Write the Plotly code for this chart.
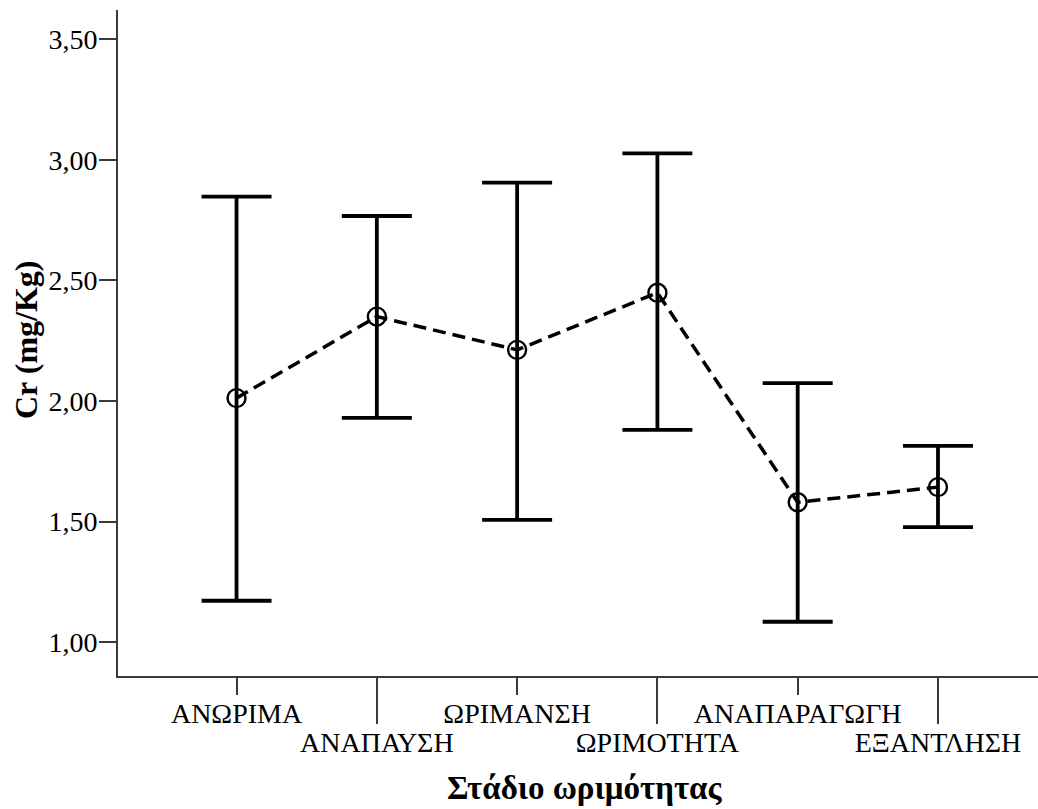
import plotly.graph_objects as go

# Maturity stages and Cr concentration (mean with interval bounds)
stages = ["ΑΝΩΡΙΜΑ", "ΑΝΑΠΑΥΣΗ", "ΩΡΙΜΑΝΣΗ", "ΩΡΙΜΟΤΗΤΑ", "ΑΝΑΠΑΡΑΓΩΓΗ", "ΕΞΑΝΤΛΗΣΗ"]
cr_mean = [2.012, 2.350, 2.212, 2.449, 1.580, 1.643]
cr_upper = [2.847, 2.767, 2.905, 3.027, 2.074, 1.814]
cr_lower = [1.172, 1.930, 1.507, 1.880, 1.085, 1.477]
y_ticks = [1.0, 1.5, 2.0, 2.5, 3.0, 3.5]
y_tick_labels = ["1,00", "1,50", "2,00", "2,50", "3,00", "3,50"]

pos = list(range(len(stages)))
err_plus = [u - m for u, m in zip(cr_upper, cr_mean)]
err_minus = [m - l for m, l in zip(cr_mean, cr_lower)]

FONT = "Liberation Serif, Times New Roman, serif"
AXIS_COLOR = "#3a3a3a"
TICK_SIZE = 28

fig = go.Figure()
fig.add_trace(go.Scatter(
    x=pos, y=cr_mean,
    mode="lines+markers",
    line=dict(color="black", width=3.5, dash="13px,7px"),
    marker=dict(symbol="circle-open", size=18, color="black", line=dict(width=2.4, color="black")),
    error_y=dict(type="data", symmetric=False, array=err_plus, arrayminus=err_minus,
                 color="black", thickness=3.8, width=35),
    showlegend=False,
    cliponaxis=False,
))

x_range = [-0.845, 5.713]
even = pos[0::2]
odd = pos[1::2]

fig.update_layout(
    width=1038, height=809,
    margin=dict(l=118, r=0, t=10, b=133),
    paper_bgcolor="white", plot_bgcolor="white",
    font=dict(family=FONT, color="black", size=TICK_SIZE),
    xaxis=dict(
        range=x_range, tickmode="array",
        tickvals=even, ticktext=[stages[i] for i in even],
        ticks="outside", ticklen=17, tickwidth=2, tickcolor=AXIS_COLOR,
        showline=True, linecolor=AXIS_COLOR, linewidth=2,
        showgrid=False, zeroline=False, ticklabelstandoff=-6,
        tickfont=dict(size=TICK_SIZE, family=FONT, color="black"),
    ),
    xaxis2=dict(
        range=x_range, overlaying="x", anchor="y", side="bottom",
        tickmode="array", tickvals=odd, ticktext=[stages[i] for i in odd],
        ticks="outside", ticklen=47, tickwidth=2, tickcolor=AXIS_COLOR,
        showline=False, showgrid=False, zeroline=False, ticklabelstandoff=-6,
        tickfont=dict(size=TICK_SIZE, family=FONT, color="black"),
    ),
    yaxis=dict(
        range=[0.860, 3.621], tickmode="array",
        tickvals=y_ticks, ticktext=y_tick_labels,
        ticks="outside", ticklen=17, tickwidth=2, tickcolor=AXIS_COLOR,
        showline=True, linecolor=AXIS_COLOR, linewidth=2,
        showgrid=False, zeroline=False, ticklabelstandoff=-4,
        tickfont=dict(size=TICK_SIZE, family=FONT, color="black"),
    ),
    annotations=[
        dict(text="<b>Στάδιο ωριμότητας</b>", xref="paper", yref="paper",
             x=(585 - 118) / 920, y=-(788 - 676) / 666, xanchor="center", yanchor="middle",
             showarrow=False, font=dict(size=33, family=FONT, color="black")),
        dict(text="<b>Cr (mg/Kg)</b>", xref="paper", yref="paper",
             x=-(118 - 26) / 920, y=(676 - 340) / 666, xanchor="center", yanchor="middle",
             textangle=-90, showarrow=False, font=dict(size=32, family=FONT, color="black")),
    ],
)

# invisible trace so the second category axis is rendered
fig.add_trace(go.Scatter(x=[pos[1]], y=[cr_mean[1]], xaxis="x2", mode="markers",
                         marker=dict(opacity=0), showlegend=False, hoverinfo="skip"))

fig.write_html("out.html")
